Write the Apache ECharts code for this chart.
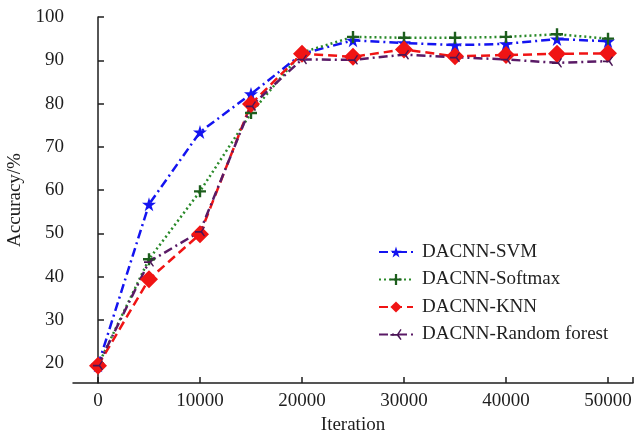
<!DOCTYPE html>
<html>
<head>
<meta charset="utf-8">
<script src="https://cdn.jsdelivr.net/npm/echarts@6/dist/echarts.min.js"></script>
<style>
  html, body { margin: 0; padding: 0; background: #fff; }
  #chart { width: 634px; height: 432px; }
</style>
</head>
<body>
<div id="chart"></div>
<script>
// 横轴：迭代次数
var iterations = [0, 5000, 10000, 15000, 20000, 25000, 30000, 35000, 40000, 45000, 50000];
var xTicks = [0, 10000, 20000, 30000, 40000, 50000];
var yTicks = [20, 30, 40, 50, 60, 70, 80, 90, 100];

// 各方法准确率 (%)
var svmAcc = [19.5, 56.7, 73.4, 82.2, 91.5, 94.6, 94.0, 93.5, 93.8, 94.9, 94.4];
var softmaxAcc = [19.5, 44.0, 59.7, 77.8, 91.8, 95.4, 95.2, 95.2, 95.4, 96.0, 95.0];
var knnAcc = [19.4, 39.4, 49.8, 79.9, 91.5, 90.8, 92.5, 90.9, 91.2, 91.5, 91.6];
var rfAcc = [19.5, 43.4, 50.4, 79.4, 90.2, 90.1, 91.3, 90.7, 90.2, 89.4, 89.8];

var seriesNames = ['DACNN-SVM', 'DACNN-Softmax', 'DACNN-KNN', 'DACNN-Random forest'];

function pairs(vals) {
    return iterations.map(function (x, i) { return [x, vals[i]]; });
}

var starPath = 'path://M50,0L61.8,36.2L100,36.2L69.1,58.8L80.9,95.1L50,72.7L19.1,95.1L30.9,58.8L0,36.2L38.2,36.2Z';
var plusPath = 'path://M4,0H6V4H10V6H6V10H4V6H0V4H4Z';
var rfPath = 'path://M0,4.2H6L9,0L10,0.8L7.2,4.6L10,8.6L9,9.4L6,5.8H0Z';

var font = 'Liberation Serif';
var ink = '#1e1e1e';

var chart = echarts.init(document.getElementById('chart'));

chart.setOption({
    animation: false,
    backgroundColor: '#fff',
    grid: { left: 73, right: 1, top: 17, bottom: 49, outerBoundsMode: 'none' },
    legend: {
        orient: 'vertical',
        left: 378,
        top: 242,
        padding: 0,
        itemWidth: 34,
        itemHeight: 14,
        itemGap: 7.5,
        data: seriesNames,
        textStyle: { fontFamily: font, fontSize: 19, color: ink, lineHeight: 20, padding: [0, 0, 0, 4] }
    },
    xAxis: {
        type: 'value',
        min: -2450,
        max: 52450,
        name: 'Iteration',
        nameLocation: 'middle',
        nameGap: 31,
        nameTextStyle: { fontFamily: font, fontSize: 19, color: ink },
        splitLine: { show: false },
        axisLine: { lineStyle: { color: ink, width: 1.5 } },
        axisTick: { inside: true, length: 6, lineStyle: { color: ink, width: 1.5 }, customValues: xTicks.concat([52450]) },
        axisLabel: {
            fontFamily: font, fontSize: 19, color: ink, margin: 9, customValues: xTicks,
            formatter: function (v) { return String(v); }
        }
    },
    yAxis: {
        type: 'value',
        min: 15.4,
        max: 100,
        name: 'Accuracy/%',
        nameLocation: 'middle',
        nameGap: 47,
        nameTextStyle: { fontFamily: font, fontSize: 19, color: ink },
        splitLine: { show: false },
        axisLine: { show: true, lineStyle: { color: ink, width: 1.5 } },
        axisTick: { show: true, inside: true, length: 6, lineStyle: { color: ink, width: 1.5 }, customValues: yTicks },
        axisLabel: { fontFamily: font, fontSize: 19, color: ink, margin: 9, customValues: yTicks }
    },
    series: [
        {
            name: seriesNames[0], type: 'line', data: pairs(svmAcc),
            symbol: starPath, symbolSize: 14,
            lineStyle: { color: '#1414f0', width: 2.5, type: [9, 4, 2, 4] },
            itemStyle: { color: '#1414f0' }
        },
        {
            name: seriesNames[1], type: 'line', data: pairs(softmaxAcc),
            symbol: plusPath, symbolSize: 12,
            lineStyle: { color: '#2a8a2a', width: 2.5, type: [2, 3] },
            itemStyle: { color: '#1d5e1d' }
        },
        {
            name: seriesNames[2], type: 'line', data: pairs(knnAcc),
            symbol: 'diamond', symbolSize: 18,
            lineStyle: { color: '#f01414', width: 2.5, type: [9, 5] },
            itemStyle: { color: '#f01414' }
        },
        {
            name: seriesNames[3], type: 'line', data: pairs(rfAcc),
            symbol: rfPath, symbolSize: 10,
            lineStyle: { color: '#5a1a66', width: 2.5, type: [9, 4, 2, 4] },
            itemStyle: { color: '#4a1656' }
        }
    ]
});
</script>
</body>
</html>
